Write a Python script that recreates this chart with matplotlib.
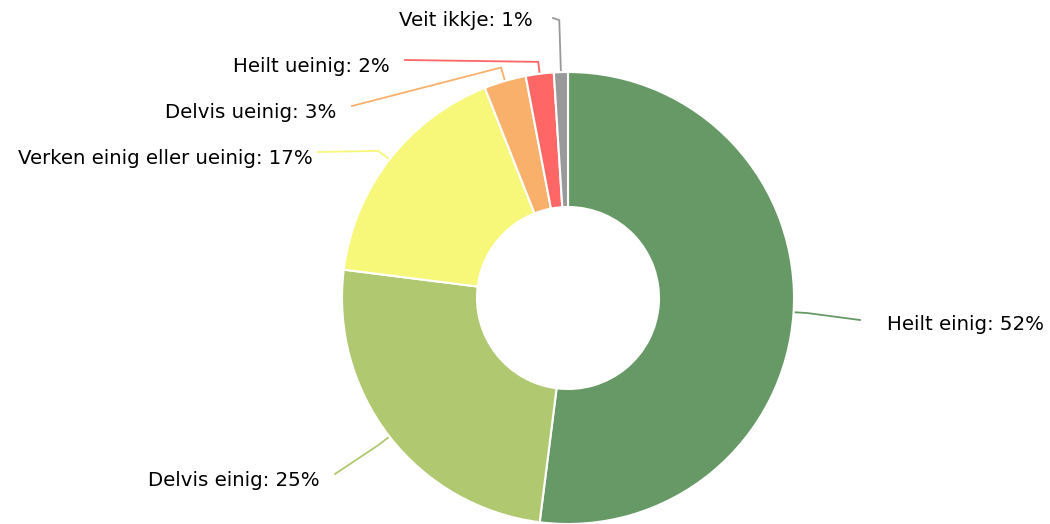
import numpy as np
import matplotlib

matplotlib.use("Agg")
import matplotlib.pyplot as plt

labels = ["Heilt einig", "Delvis einig", "Verken einig eller ueinig",
          "Delvis ueinig", "Heilt ueinig", "Veit ikkje"]
values = [52, 25, 17, 3, 2, 1]
colors = ["#669966", "#b0c970", "#f7f77a", "#f9b06b", "#ff6666", "#999999"]

# label layout in image pixels (y measured from top)
line_end = [(860, 320), (335, 474), (318, 152), (352, 106), (405, 60), (553, 18)]
elbow_r = [240, 240, 240, 240, 238, 278]
text_pos = [(887, 325), (320, 481), (313, 159), (336, 112), (390, 67), (533, 21)]
text_ha = ["left", "right", "right", "right", "right", "right"]

W, H = 1050, 524
cx, cy, R, r_in = 568, H - 298, 226, 91

fig = plt.figure(figsize=(W / 100, H / 100), dpi=100)
ax = fig.add_axes([0, 0, 1, 1])

wedges, _ = ax.pie(values, colors=colors, startangle=90, counterclock=False,
                   center=(cx, cy), radius=R,
                   wedgeprops=dict(width=R - r_in, edgecolor="white", linewidth=1.5))

for w, lab, v, c, end, er, tp, ha in zip(wedges, labels, values, colors,
                                         line_end, elbow_r, text_pos, text_ha):
    mid = np.deg2rad((w.theta1 + w.theta2) / 2)
    x0, y0 = cx + R * np.cos(mid), cy + R * np.sin(mid)
    x1, y1 = cx + er * np.cos(mid), cy + er * np.sin(mid)
    ax.plot([x0, x1, end[0]], [y0, y1, H - end[1]], color=c, lw=1.3,
            solid_joinstyle="round", clip_on=False, zorder=0)
    ax.text(tp[0], H - tp[1], f"{lab}: {v}%", ha=ha, va="center",
            fontsize=14.2, color="#000000", family="DejaVu Sans")

# pie() resets the limits, so set them afterwards
ax.set_xlim(0, W)
ax.set_ylim(0, H)
ax.set_aspect("equal")
ax.axis("off")

fig.savefig("out.png", dpi=100)
plt.close(fig)
